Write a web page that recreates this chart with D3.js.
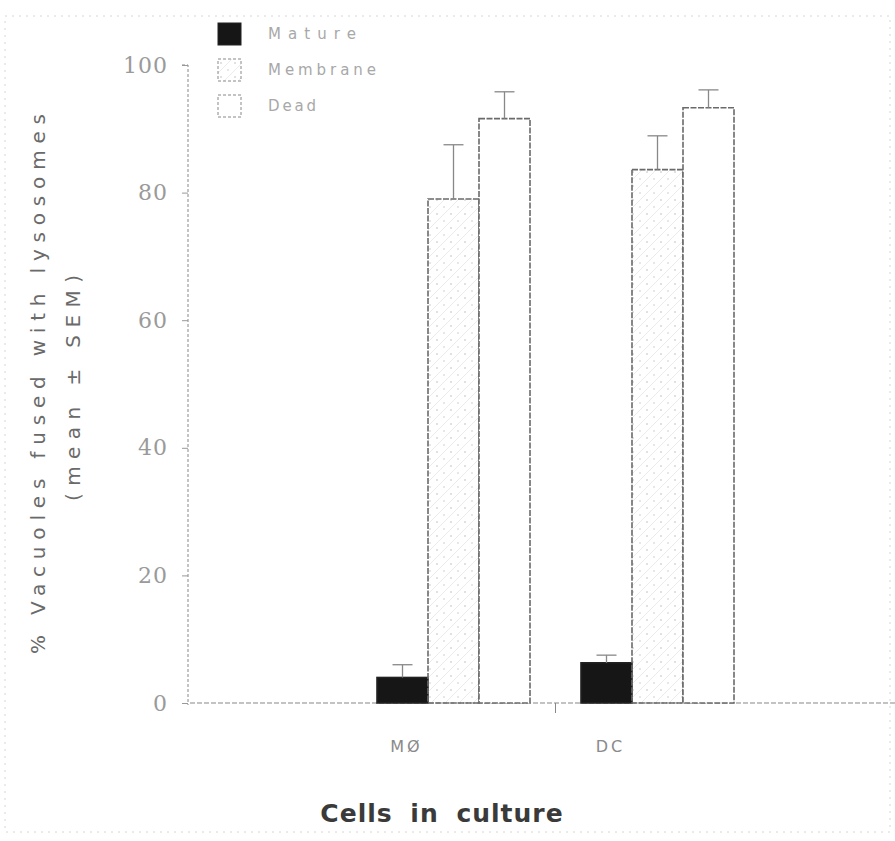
<!DOCTYPE html>
<html>
<head>
<meta charset="utf-8">
<script src="https://cdn.jsdelivr.net/npm/d3@7"></script>
<style>
  body { margin: 0; background: #fff; }
  svg { font-family: "DejaVu Sans", sans-serif; }
</style>
</head>
<body>
<div id="container"></div>
<script>
/* DATA */
const categories = ["MØ", "DC"];
const seriesNames = ["Mature", "Membrane", "Dead"];
const matureMean = [4, 6.3];
const matureErr = [2, 1.2];
const membraneMean = [79, 83.6];
const membraneErr = [8.5, 5.3];
const deadMean = [91.6, 93.3];
const deadErr = [4.2, 2.8];
const yTicks = [0, 20, 40, 60, 80, 100];

/* CONSTANTS */
const width = 895, height = 841;
const means = [matureMean, membraneMean, deadMean];
const errs = [matureErr, membraneErr, deadErr];

const rows = [];
categories.forEach((c, i) => {
  seriesNames.forEach((s, j) => {
    rows.push({ cat: c, series: s, value: means[j][i], err: errs[j][i] });
  });
});

const svg = d3.select("#container")
  .append("svg")
  .attr("width", width)
  .attr("height", height);

// stippled fill for the middle bar
const defs = svg.append("defs");
const pat = defs.append("pattern")
  .attr("id", "stipple")
  .attr("patternUnits", "userSpaceOnUse")
  .attr("width", 14).attr("height", 14);
pat.append("circle").attr("cx", 3).attr("cy", 4).attr("r", 0.7).attr("fill", "#aaa");
pat.append("circle").attr("cx", 10).attr("cy", 11).attr("r", 0.7).attr("fill", "#bbb");
pat.append("path").attr("d", "M0,14 L14,0").attr("stroke", "#ddd").attr("stroke-width", 0.6);

// faint scan border
svg.append("rect")
  .attr("x", 5).attr("y", 16).attr("width", 885).attr("height", 816)
  .attr("fill", "none").attr("stroke", "#d6d6d6")
  .attr("stroke-dasharray", "2,5");

// SCALES
const x = d3.scaleBand()
  .domain(categories)
  .range([326, 785])
  .padding(0.25);

const xSub = d3.scaleBand()
  .domain(seriesNames)
  .range([0, x.bandwidth()]);

const y = d3.scaleLinear()
  .domain([0, 100])
  .range([703, 65]);

// AXES
const yAxis = d3.axisLeft(y)
  .tickValues(yTicks)
  .tickSize(6)
  .tickPadding(14);

const yAxisGroup = svg.append("g")
  .attr("transform", "translate(188,0)")
  .call(yAxis);
yAxisGroup.select(".domain")
  .attr("stroke", "#888").attr("stroke-dasharray", "3,2")
  .attr("d", `M-6,${y(100)}H0V${y(0) + 2}`);
yAxisGroup.selectAll(".tick line").attr("stroke", "#999");
yAxisGroup.selectAll(".tick text")
  .attr("fill", "#9a9a9a")
  .style("font-family", "'DejaVu Serif', serif")
  .attr("font-size", 22)
  .attr("letter-spacing", 1);

// x baseline
svg.append("line")
  .attr("x1", 190).attr("x2", 895)
  .attr("y1", y(0)).attr("y2", y(0))
  .attr("stroke", "#888").attr("stroke-width", 1.2)
  .attr("stroke-dasharray", "5,2");

const midTick = (x(categories[0]) + x.bandwidth() + x(categories[1])) / 2;
svg.append("line")
  .attr("x1", midTick).attr("x2", midTick)
  .attr("y1", y(0)).attr("y2", y(0) + 10)
  .attr("stroke", "#888");

// BARS
const fills = { Mature: "#161616", Membrane: "url(#stipple)", Dead: "#fff" };

svg.append("g")
  .selectAll("rect")
  .data(rows)
  .join("rect")
  .attr("x", d => x(d.cat) + xSub(d.series))
  .attr("width", xSub.bandwidth())
  .attr("y", d => y(d.value))
  .attr("height", d => y(0) - y(d.value))
  .attr("fill", d => fills[d.series])
  .attr("stroke", d => d.series === "Mature" ? "#222" : "#6a6a6a")
  .attr("stroke-width", 1.6)
  .attr("stroke-dasharray", d => d.series === "Mature" ? null : "6,1.5");

// ERROR BARS
const eb = svg.append("g")
  .selectAll("g")
  .data(rows)
  .join("g")
  .attr("stroke", "#888")
  .attr("stroke-width", 1.3);
eb.append("line")
  .attr("x1", d => x(d.cat) + xSub(d.series) + xSub.bandwidth() / 2)
  .attr("x2", d => x(d.cat) + xSub(d.series) + xSub.bandwidth() / 2)
  .attr("y1", d => y(d.value))
  .attr("y2", d => y(d.value + d.err));
eb.append("line")
  .attr("x1", d => x(d.cat) + xSub(d.series) + xSub.bandwidth() / 2 - 10)
  .attr("x2", d => x(d.cat) + xSub(d.series) + xSub.bandwidth() / 2 + 10)
  .attr("y1", d => y(d.value + d.err))
  .attr("y2", d => y(d.value + d.err));

// CATEGORY LABELS
svg.append("g")
  .selectAll("text")
  .data(categories)
  .join("text")
  .attr("x", d => x(d) + xSub.bandwidth() / 2 + 4)
  .attr("y", 752)
  .attr("text-anchor", "middle")
  .attr("fill", "#8a8a8a")
  .attr("font-size", 16)
  .attr("letter-spacing", 3)
  .text(d => d);

// X TITLE
svg.append("text")
  .attr("x", 442)
  .attr("y", 822)
  .attr("text-anchor", "middle")
  .attr("fill", "#3a3a3a")
  .attr("font-size", 25)
  .attr("font-weight", "bold")
  .attr("letter-spacing", 1)
  .attr("word-spacing", 8)
  .text("Cells in culture");

// Y TITLE
svg.append("text")
  .attr("transform", "translate(45,384) rotate(-90)")
  .attr("text-anchor", "middle")
  .attr("fill", "#6a6a6a")
  .attr("font-size", 20)
  .attr("textLength", 540)
  .attr("lengthAdjust", "spacing")
  .text("% Vacuoles fused with lysosomes");

svg.append("text")
  .attr("transform", "translate(80,388) rotate(-90)")
  .attr("text-anchor", "middle")
  .attr("fill", "#6a6a6a")
  .attr("font-size", 20)
  .attr("textLength", 226)
  .attr("lengthAdjust", "spacing")
  .text("(mean ± SEM)");

// LEGEND
const legend = svg.append("g")
  .selectAll("g")
  .data(seriesNames)
  .join("g")
  .attr("transform", (d, i) => `translate(218, ${23 + i * 36})`);
legend.append("rect")
  .attr("width", 23).attr("height", 22)
  .attr("fill", d => fills[d])
  .attr("stroke", d => d === "Mature" ? "#222" : "#888")
  .attr("stroke-dasharray", d => d === "Mature" ? null : "3,2");
const legendLen = { Mature: 88, Membrane: 108, Dead: 48 };
legend.append("text")
  .attr("x", 50).attr("y", 16)
  .attr("fill", "#a8a8a8")
  .attr("font-size", 15)
  .attr("textLength", d => legendLen[d])
  .attr("lengthAdjust", "spacing")
  .text(d => d);
</script>
</body>
</html>
